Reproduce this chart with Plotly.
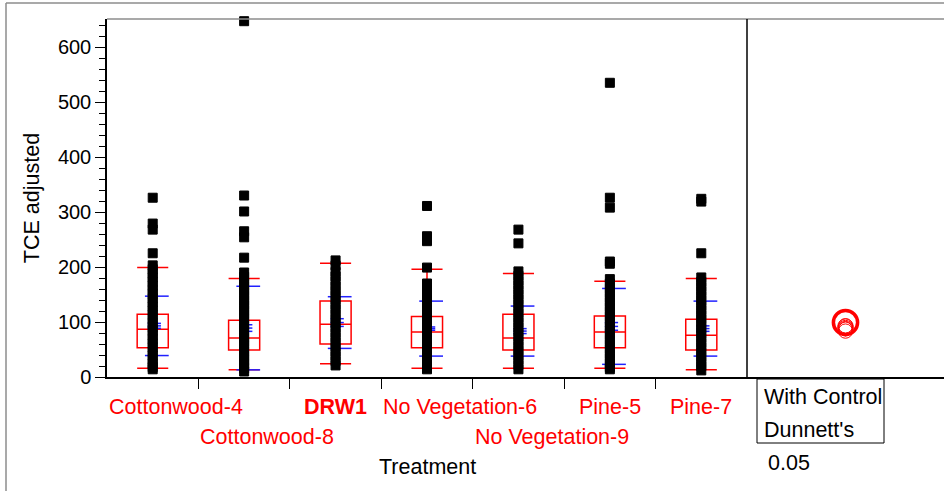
import plotly.graph_objects as go

# ---- data -------------------------------------------------------------
groups = ["Cottonwood-4", "Cottonwood-8", "DRW1", "No Vegetation-6",
          "No Vegetation-9", "Pine-5", "Pine-7"]
control = "DRW1"

# observed TCE values per treatment
tce_cottonwood4 = [326, 279, 268, 225, 203, 196, 188, 181, 173, 166, 158, 151,
                   143, 136, 128, 121, 113, 106, 98, 91, 84, 76, 69, 61, 54,
                   46, 39, 31, 24, 18, 14]
tce_cottonwood8 = [647, 330, 301, 265, 254, 217, 190, 182, 173, 165, 156, 148,
                   139, 131, 122, 114, 106, 97, 89, 81, 72, 64, 56, 47, 39,
                   31, 23, 16, 10]
tce_drw1 = [212, 203, 191, 183, 174, 165, 157, 148, 140, 131, 123, 114, 106,
            97, 89, 80, 72, 63, 55, 46, 38, 29, 21]
tce_noveg6 = [311, 256, 247, 199, 170, 162, 153, 145, 136, 128, 119, 111, 102,
              94, 85, 77, 68, 60, 51, 43, 34, 26, 19, 14]
tce_noveg9 = [268, 243, 192, 184, 175, 167, 158, 150, 141, 133, 124, 116, 107,
              99, 90, 82, 73, 65, 56, 48, 39, 31, 22, 14]
tce_pine5 = [535, 326, 308, 210, 206, 178, 170, 161, 153, 144, 136, 127, 119,
             110, 102, 93, 85, 76, 68, 59, 51, 42, 34, 25, 18, 14]
tce_pine7 = [324, 319, 225, 181, 173, 164, 156, 147, 139, 130, 122, 113, 105,
             96, 88, 79, 71, 62, 54, 45, 37, 28, 20, 12]
tce_values = [tce_cottonwood4, tce_cottonwood8, tce_drw1, tce_noveg6,
              tce_noveg9, tce_pine5, tce_pine7]

# box plot summaries
q1 = [53, 49, 60, 53, 49, 53, 49]
median = [87, 71, 96, 82, 71, 82, 76]
q3 = [114, 103, 138, 110, 114, 111, 105]
lower_whisker = [16, 13, 24, 16, 16, 16, 13]
upper_whisker = [199, 179, 207, 196, 188, 174, 179]

# means, standard errors and standard deviations
means = [93, 89, 99, 88, 83.5, 92, 88]
std_err = [4.5, 6, 7, 3, 4.5, 7, 5]
std_dev = [54, 76, 47, 50, 45.5, 69, 50]

# Dunnett's comparison circle radii
circle_radius = [13, 14, 22, 12, 13, 14, 13]

# category label placement (row, anchor)
label_row = [0, 1, 0, 0, 1, 0, 0]
label_anchor = ["left", "left", "center", "left", "left", "center", "center"]

y_max = 651
alpha_text = "0.05"

# ---- layout geometry ---------------------------------------------------
W, H = 944, 491
ML, MR, MT, MB = 107, 0, 19, 114
plot_w = W - ML - MR
plot_h = H - MT - MB
main_w = 640
split = main_w / plot_w
panel_w = plot_w - main_w
ppu = plot_h / y_max               # pixels per y unit
x2_span = panel_w / ppu            # keep circles round in the side panel

FONT = "Liberation Sans, Arial, sans-serif"
RED = "#FF0000"
BLUE = "#2020FF"
LABEL_SIZE = 21.5

fig = go.Figure()

# box plots
for i, g in enumerate(groups):
    fig.add_trace(go.Box(
        x=[i], q1=[q1[i]], median=[median[i]], q3=[q3[i]],
        lowerfence=[lower_whisker[i]], upperfence=[upper_whisker[i]],
        width=0.34, whiskerwidth=1, boxpoints=False,
        fillcolor="rgba(0,0,0,0)", line=dict(color=RED, width=1.5),
        xaxis="x", yaxis="y", showlegend=False, hoverinfo="skip"))

# mean / std-error / std-dev lines
for i in range(len(groups)):
    xs, ys = [], []
    for y in (means[i] - std_dev[i], means[i] + std_dev[i]):
        xs += [i - 0.085, i + 0.175, None]
        ys += [y, y, None]
    for y in (means[i] - std_err[i], means[i], means[i] + std_err[i]):
        xs += [i - 0.055, i + 0.09, None]
        ys += [y, y, None]
    fig.add_trace(go.Scatter(x=xs, y=ys, mode="lines",
                             line=dict(color=BLUE, width=1.5),
                             showlegend=False, hoverinfo="skip"))

# individual observations
for i, vals in enumerate(tce_values):
    fig.add_trace(go.Scatter(
        x=[i] * len(vals), y=vals, mode="markers", cliponaxis=False,
        marker=dict(symbol="square", size=9, color="black",
                    line=dict(color="black", width=1)),
        showlegend=False, hoverinfo="skip"))

# invisible anchor trace for the side panel
fig.add_trace(go.Scatter(x=[x2_span / 2], y=[means[0]], mode="markers",
                         marker=dict(opacity=0), xaxis="x2", yaxis="y",
                         showlegend=False, hoverinfo="skip"))

shapes = []
# comparison circles
cx = x2_span * 0.5
for i, g in enumerate(groups):
    r = circle_radius[i]
    is_ctrl = g == control
    shapes.append(dict(type="circle", xref="x2", yref="y",
                       x0=cx - r, x1=cx + r,
                       y0=means[i] - r, y1=means[i] + r,
                       line=dict(color=RED, width=3.5 if is_ctrl else 1)))

# frame lines
px = lambda p: (p - ML) / plot_w
py = lambda p: (H - MB - p) / plot_h
GRAY = "#8c8c8c"
shapes += [
    dict(type="line", xref="paper", yref="paper", x0=px(6), x1=px(W),
         y0=py(3), y1=py(3), line=dict(color=GRAY, width=1.5)),
    dict(type="line", xref="paper", yref="paper", x0=px(6), x1=px(6),
         y0=py(3), y1=py(H), line=dict(color=GRAY, width=1.5)),
    dict(type="line", xref="paper", yref="paper", x0=0, x1=1,
         y0=1, y1=1, line=dict(color=GRAY, width=1.5)),
    dict(type="line", xref="paper", yref="paper", x0=split, x1=split,
         y0=0, y1=1, line=dict(color="black", width=1.5)),
    dict(type="rect", xref="paper", yref="paper", x0=px(757), x1=px(884),
         y0=py(443), y1=py(379), line=dict(color="black", width=1)),
]

annotations = []
for i, g in enumerate(groups):
    x = i - 0.5 if label_anchor[i] == "left" else i
    annotations.append(dict(
        x=x, y=0, xref="x", yref="paper", xanchor=label_anchor[i],
        yanchor="middle", yshift=-30 - 30 * label_row[i], showarrow=False,
        text=f"<b>{g}</b>" if g == control else g,
        font=dict(family=FONT, size=LABEL_SIZE, color=RED)))
annotations.append(dict(x=0.5, y=0, xref="x domain", yref="paper",
                        xanchor="center", yanchor="middle", yshift=-90,
                        showarrow=False, text="Treatment",
                        font=dict(family=FONT, size=LABEL_SIZE,
                                  color="black")))
for txt, xp, yp in (("With Control", 762, 397), ("Dunnett's", 762, 430),
                    (alpha_text, 766, 463)):
    annotations.append(dict(x=px(xp), y=0, xref="paper", yref="paper",
                            xanchor="left", yanchor="middle",
                            yshift=-(yp - (H - MB)), showarrow=False,
                            text=txt,
                            font=dict(family=FONT, size=21.5,
                                      color="black")))

fig.update_layout(
    width=W, height=H, margin=dict(l=ML, r=MR, t=MT, b=MB, pad=0),
    paper_bgcolor="white", plot_bgcolor="white",
    font=dict(family=FONT, size=20, color="black"),
    showlegend=False,
    xaxis=dict(domain=[0, split], range=[-0.5, len(groups) - 0.5],
               showline=True, linecolor="black", linewidth=1.5,
               ticks="outside", ticklen=10, tickcolor="black",
               tickvals=[i + 0.5 for i in range(len(groups) - 1)],
               showticklabels=False, showgrid=False, zeroline=False),
    xaxis2=dict(domain=[split, 1], range=[0, x2_span], anchor="y",
                showline=True, linecolor="black", linewidth=1.5,
                showticklabels=False, ticks="", showgrid=False,
                zeroline=False),
    yaxis=dict(range=[0, y_max], showline=True, linecolor="black",
               linewidth=1.5, ticks="outside", ticklen=10,
               tickcolor="black", dtick=100, tick0=0,
               tickfont=dict(family=FONT, size=20, color="black"),
               minor=dict(dtick=20, ticks="outside", ticklen=6,
                          tickcolor="black"),
               showgrid=False, zeroline=False,
               title=dict(text="TCE adjusted", standoff=12,
                          font=dict(family=FONT, size=LABEL_SIZE,
                                    color="black"))),
    shapes=shapes, annotations=annotations,
)

fig.write_html("out.html")
